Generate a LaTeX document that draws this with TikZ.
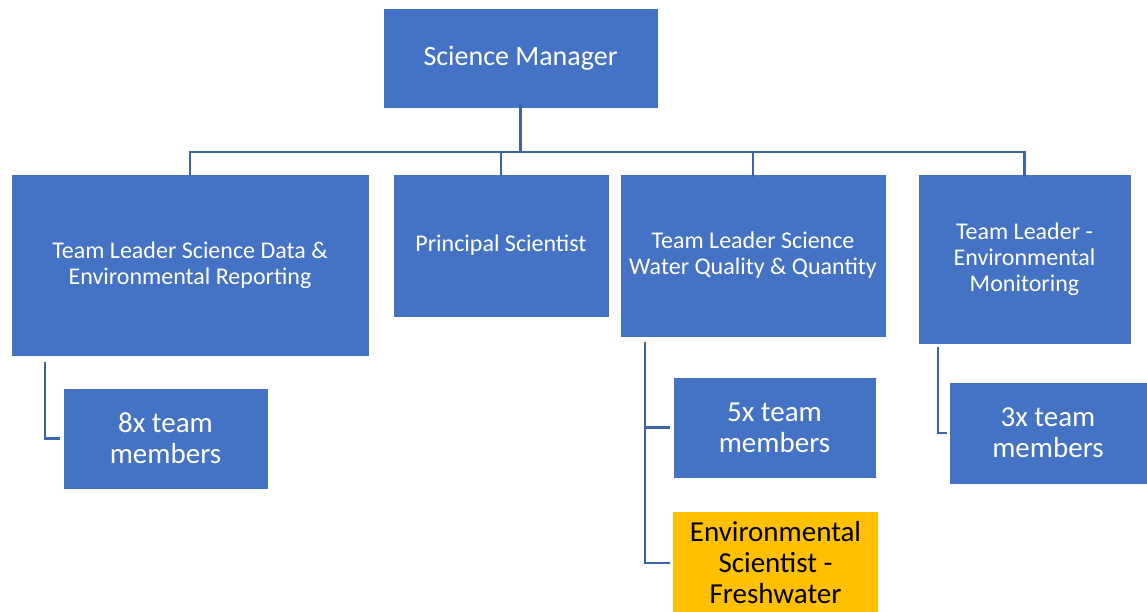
\documentclass[tikz,border=0pt]{standalone}
\usepackage{fontspec}
\setmainfont{Carlito}
\definecolor{boxblue}{HTML}{4472C4}
\definecolor{lineblue}{HTML}{3B64AD}
\definecolor{gold}{HTML}{FFC000}
\begin{document}
\begin{tikzpicture}[x=1pt,y=-1pt,
  box/.style={fill=boxblue,draw=white,line width=0.6pt,text=white,align=center,inner sep=0pt},
  goldbox/.style={fill=gold,draw=none,text=black,align=center,inner sep=0pt},
  conn/.style={draw=lineblue,line width=2.8pt}]
\useasboundingbox (0,0) rectangle (1147,611);
\node[box,minimum width=275pt,minimum height=100pt,font=\fontsize{28}{32}\selectfont] (sm) at (520.5,58) {Science Manager};
\node[box,minimum width=358pt,minimum height=182pt,font=\fontsize{24}{26}\selectfont] (tl1) at (190,265) {Team Leader Science Data \&\\Environmental Reporting};
\node[box,minimum width=216pt,minimum height=143pt,font=\fontsize{24}{26}\selectfont] (ps) at (501,245.5) {Principal Scientist};
\node[box,minimum width=266pt,minimum height=163pt,font=\fontsize{24}{26}\selectfont] (tl3) at (753,255.5) {Team Leader Science\\Water Quality \& Quantity};
\node[box,minimum width=213pt,minimum height=170pt,font=\fontsize{24}{26}\selectfont] (tl4) at (1024.5,259) {Team Leader -\\Environmental\\Monitoring};
\node[box,minimum width=205pt,minimum height=101pt,font=\fontsize{29}{31}\selectfont] (m8) at (165.5,438.5) {8x team\\members};
\node[box,minimum width=203pt,minimum height=101pt,font=\fontsize{29}{31}\selectfont] (m5) at (774.5,427.5) {5x team\\members};
\node[box,minimum width=198pt,minimum height=102pt,font=\fontsize{29}{31}\selectfont] (m3) at (1048,433) {3x team\\members};
\node[goldbox,minimum width=205pt,minimum height=102pt,font=\fontsize{29}{31}\selectfont] (es) at (775.5,563) {Environmental\\Scientist -\\Freshwater};
\coordinate (bus) at (520.5,152);
\draw[conn] ([yshift=4pt]sm.south) -- (bus);
\draw[conn] ([yshift=-3pt]tl1.north) |- (bus) -| ([yshift=-3pt]tl4.north);
\draw[conn] ([yshift=-3pt]ps.north) -- (ps.north |- bus);
\draw[conn] ([yshift=-3pt]tl3.north) -- (tl3.north |- bus);
\coordinate (c1) at (45,362);
\draw[conn] (c1) |- ([xshift=-3pt]m8.west);
\coordinate (c3) at (645,342);
\draw[conn] (c3) |- ([xshift=-3pt]m5.west);
\draw[conn] (c3) |- ([xshift=-3pt]es.west);
\coordinate (c4) at (938,347);
\draw[conn] (c4) |- ([xshift=-2pt]m3.west);
\end{tikzpicture}
\end{document}
